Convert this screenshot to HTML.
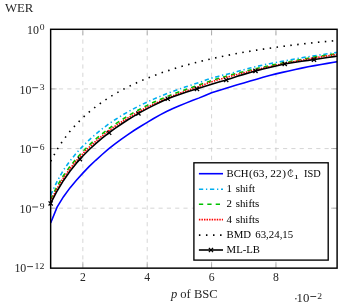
<!DOCTYPE html>
<html><head><meta charset="utf-8"><title>WER plot</title>
<style>html,body{margin:0;padding:0;background:#fff;}body{width:338px;height:305px;overflow:hidden;position:relative;font-family:"Liberation Serif",serif;}</style>
</head><body>
<svg width="338" height="305" viewBox="0 0 338 305" style="position:absolute;left:0;top:0;will-change:transform">
<defs><clipPath id="c"><rect x="50.65" y="29.30" width="286.45" height="238.50"/></clipPath></defs>
<rect x="0" y="0" width="338" height="305" fill="#fff"/>
<line x1="82.84" y1="267.80" x2="82.84" y2="29.30" stroke="#c4c4c4" stroke-width="0.7" stroke-dasharray="4.15 4.15"/>
<line x1="147.21" y1="267.80" x2="147.21" y2="29.30" stroke="#c4c4c4" stroke-width="0.7" stroke-dasharray="4.15 4.15"/>
<line x1="211.58" y1="267.80" x2="211.58" y2="29.30" stroke="#c4c4c4" stroke-width="0.7" stroke-dasharray="4.15 4.15"/>
<line x1="275.95" y1="267.80" x2="275.95" y2="29.30" stroke="#c4c4c4" stroke-width="0.7" stroke-dasharray="4.15 4.15"/>
<line x1="50.65" y1="88.92" x2="337.10" y2="88.92" stroke="#c4c4c4" stroke-width="0.7" stroke-dasharray="4.15 4.15"/>
<line x1="50.65" y1="148.55" x2="337.10" y2="148.55" stroke="#c4c4c4" stroke-width="0.7" stroke-dasharray="4.15 4.15"/>
<line x1="50.65" y1="208.18" x2="337.10" y2="208.18" stroke="#c4c4c4" stroke-width="0.7" stroke-dasharray="4.15 4.15"/>
<line x1="82.84" y1="267.80" x2="82.84" y2="261.80" stroke="#7f7f7f" stroke-width="0.5"/>
<line x1="82.84" y1="29.30" x2="82.84" y2="35.30" stroke="#7f7f7f" stroke-width="0.5"/>
<line x1="147.21" y1="267.80" x2="147.21" y2="261.80" stroke="#7f7f7f" stroke-width="0.5"/>
<line x1="147.21" y1="29.30" x2="147.21" y2="35.30" stroke="#7f7f7f" stroke-width="0.5"/>
<line x1="211.58" y1="267.80" x2="211.58" y2="261.80" stroke="#7f7f7f" stroke-width="0.5"/>
<line x1="211.58" y1="29.30" x2="211.58" y2="35.30" stroke="#7f7f7f" stroke-width="0.5"/>
<line x1="275.95" y1="267.80" x2="275.95" y2="261.80" stroke="#7f7f7f" stroke-width="0.5"/>
<line x1="275.95" y1="29.30" x2="275.95" y2="35.30" stroke="#7f7f7f" stroke-width="0.5"/>
<line x1="50.65" y1="88.92" x2="56.65" y2="88.92" stroke="#7f7f7f" stroke-width="0.5"/>
<line x1="337.10" y1="88.92" x2="331.10" y2="88.92" stroke="#7f7f7f" stroke-width="0.5"/>
<line x1="50.65" y1="148.55" x2="56.65" y2="148.55" stroke="#7f7f7f" stroke-width="0.5"/>
<line x1="337.10" y1="148.55" x2="331.10" y2="148.55" stroke="#7f7f7f" stroke-width="0.5"/>
<line x1="50.65" y1="208.18" x2="56.65" y2="208.18" stroke="#7f7f7f" stroke-width="0.5"/>
<line x1="337.10" y1="208.18" x2="331.10" y2="208.18" stroke="#7f7f7f" stroke-width="0.5"/>
<g clip-path="url(#c)" fill="none" stroke-width="1.60">
<path d="M50.65,222.92 L57.09,207.13 L63.52,196.70 L69.96,187.88 L76.40,180.34 L82.84,173.14 L89.27,166.44 L95.71,160.29 L102.15,154.49 L108.58,148.99 L115.02,143.84 L121.46,139.06 L127.89,134.55 L134.33,130.28 L140.77,126.24 L147.21,122.41 L153.64,118.54 L160.08,114.85 L166.52,111.54 L172.95,108.60 L179.39,105.79 L185.83,103.12 L192.27,100.57 L198.70,98.13 L205.14,95.44 L211.58,92.84 L218.01,90.70 L224.45,88.66 L230.89,86.69 L237.33,84.81 L243.76,83.00 L250.20,81.05 L256.64,79.17 L263.07,77.35 L269.51,75.60 L275.95,73.90 L282.38,72.38 L288.82,70.92 L295.26,69.51 L301.70,68.15 L308.13,66.84 L314.57,65.65 L321.01,64.50 L327.44,63.40 L333.88,62.33 L340.32,61.24" stroke="#0000ff"/>
<path d="M50.65,195.09 L57.09,181.35 L63.52,169.91 L69.96,160.96 L76.40,153.11 L82.84,146.13 L89.27,139.85 L95.71,134.14 L102.15,128.91 L108.58,124.10 L115.02,119.70 L121.46,115.67 L127.89,111.91 L134.33,108.40 L140.77,105.12 L147.21,102.03 L153.64,99.12 L160.08,96.38 L166.52,93.79 L172.95,91.34 L179.39,89.01 L185.83,86.81 L192.27,84.71 L198.70,82.72 L205.14,80.37 L211.58,78.11 L218.01,76.40 L224.45,74.78 L230.89,73.23 L237.33,71.56 L243.76,69.78 L250.20,68.05 L256.64,66.39 L263.07,65.02 L269.51,63.69 L275.95,62.42 L282.38,61.20 L288.82,60.03 L295.26,58.90 L301.70,57.81 L308.13,56.76 L314.57,55.75 L321.01,54.78 L327.44,53.82 L333.88,52.89 L340.32,51.99" stroke="#00aeef" stroke-dasharray="4.3 2.75 1.3 2.7"/>
<path d="M50.65,199.16 L57.09,186.24 L63.52,175.52 L69.96,166.47 L76.40,158.51 L82.84,151.40 L89.27,144.98 L95.71,139.14 L102.15,133.77 L108.58,128.83 L115.02,124.24 L121.46,119.96 L127.89,115.96 L134.33,112.21 L140.77,108.68 L147.21,105.36 L153.64,102.33 L160.08,99.48 L166.52,96.77 L172.95,94.21 L179.39,91.78 L185.83,89.46 L192.27,87.26 L198.70,85.16 L205.14,82.79 L211.58,80.51 L218.01,78.58 L224.45,76.73 L230.89,74.96 L237.33,73.27 L243.76,71.64 L250.20,70.05 L256.64,68.53 L263.07,67.06 L269.51,65.65 L275.95,64.29 L282.38,62.99 L288.82,61.73 L295.26,60.52 L301.70,59.35 L308.13,58.22 L314.57,57.14 L321.01,56.09 L327.44,55.08 L333.88,54.11 L340.32,53.17" stroke="#00c000" stroke-dasharray="4.3 4.1"/>
<path d="M50.65,201.20 L57.09,188.42 L63.52,177.76 L69.96,168.71 L76.40,160.73 L82.84,153.60 L89.27,147.16 L95.71,141.28 L102.15,135.89 L108.58,130.90 L115.02,126.28 L121.46,121.96 L127.89,117.92 L134.33,114.12 L140.77,110.55 L147.21,107.17 L153.64,104.11 L160.08,101.20 L166.52,98.45 L172.95,95.84 L179.39,93.37 L185.83,91.01 L192.27,88.76 L198.70,86.62 L205.14,84.16 L211.58,81.78 L218.01,79.83 L224.45,77.97 L230.89,76.18 L237.33,74.46 L243.76,72.82 L250.20,71.20 L256.64,69.64 L263.07,68.14 L269.51,66.70 L275.95,65.31 L282.38,63.97 L288.82,62.68 L295.26,61.44 L301.70,60.24 L308.13,59.09 L314.57,57.98 L321.01,56.90 L327.44,55.87 L333.88,54.87 L340.32,53.91" stroke="#ff0000" stroke-dasharray="1.45 1.1"/>
<path d="M50.65,161.26 L57.09,149.52 L63.52,139.72 L69.96,131.35 L76.40,124.06 L82.84,117.63 L89.27,111.90 L95.71,106.74 L102.15,102.06 L108.58,97.79 L115.02,93.88 L121.46,90.27 L127.89,86.93 L134.33,83.83 L140.77,80.95 L147.21,78.26 L153.64,75.73 L160.08,73.37 L166.52,71.15 L172.95,69.06 L179.39,67.09 L185.83,65.23 L192.27,63.47 L198.70,61.80 L205.14,60.23 L211.58,58.73 L218.01,57.31 L224.45,55.97 L230.89,54.69 L237.33,53.47 L243.76,52.31 L250.20,51.21 L256.64,50.16 L263.07,49.16 L269.51,48.20 L275.95,47.29 L282.38,46.43 L288.82,45.60 L295.26,44.81 L301.70,44.06 L308.13,43.34 L314.57,42.65 L321.01,42.00 L327.44,41.37 L333.88,40.77 L340.32,40.21" stroke="#000" stroke-dasharray="1.5 5.44" stroke-width="1.6"/>
<path d="M50.65,203.48 L57.09,190.99 L63.52,180.42 L69.96,171.25 L76.40,163.15 L82.84,155.95 L89.27,149.51 L95.71,143.63 L102.15,138.22 L108.58,133.22 L115.02,128.46 L121.46,123.99 L127.89,119.79 L134.33,115.84 L140.77,112.13 L147.21,108.66 L153.64,105.37 L160.08,102.24 L166.52,99.27 L172.95,96.78 L179.39,94.49 L185.83,92.33 L192.27,90.27 L198.70,88.26 L205.14,86.17 L211.58,84.17 L218.01,82.26 L224.45,80.43 L230.89,78.41 L237.33,76.35 L243.76,74.37 L250.20,72.45 L256.64,70.63 L263.07,69.01 L269.51,67.45 L275.95,65.94 L282.38,64.49 L288.82,63.30 L295.26,62.29 L301.70,61.33 L308.13,60.41 L314.57,59.52 L321.01,58.51 L327.44,57.53 L333.88,56.59 L340.32,55.69" stroke="#000" stroke-linejoin="round"/>
</g>
<g stroke="#000" stroke-width="1.3" fill="none">
<path d="M48.55,201.38 L52.75,205.58 M48.55,205.58 L52.75,201.38"/>
<path d="M77.81,157.00 L82.01,161.20 M77.81,161.20 L82.01,157.00"/>
<path d="M107.07,130.69 L111.27,134.89 M107.07,134.89 L111.27,130.69"/>
<path d="M136.33,111.34 L140.53,115.54 M136.33,115.54 L140.53,111.34"/>
<path d="M165.59,96.64 L169.79,100.84 M165.59,100.84 L169.79,96.64"/>
<path d="M194.85,86.75 L199.05,90.95 M194.85,90.95 L199.05,86.75"/>
<path d="M224.11,77.84 L228.31,82.04 M224.11,82.04 L228.31,77.84"/>
<path d="M253.37,68.83 L257.57,73.03 M253.37,73.03 L257.57,68.83"/>
<path d="M282.63,61.87 L286.83,66.07 M282.63,66.07 L286.83,61.87"/>
<path d="M311.89,57.51 L316.09,61.71 M311.89,61.71 L316.09,57.51"/>
</g>
<rect x="50.65" y="29.30" width="286.45" height="238.85" fill="none" stroke="#000" stroke-width="1.45"/>
<rect x="193.90" y="162.80" width="134.30" height="97.30" fill="#fff" stroke="#000" stroke-width="1.35"/>
<g fill="none" stroke-width="1.60">
<line x1="198.90" y1="173.70" x2="223.00" y2="173.70" stroke="#0000ff"/>
<line x1="198.90" y1="189.30" x2="223.00" y2="189.30" stroke="#00aeef" stroke-dasharray="4.3 2.75 1.3 2.7"/>
<line x1="198.90" y1="204.20" x2="223.00" y2="204.20" stroke="#00c000" stroke-dasharray="4.3 4.1"/>
<line x1="198.90" y1="219.60" x2="223.00" y2="219.60" stroke="#ff0000" stroke-dasharray="1.45 1.1"/>
<line x1="198.90" y1="235.10" x2="223.00" y2="235.10" stroke="#000" stroke-dasharray="1.5 5.55" stroke-width="1.6"/>
<line x1="198.90" y1="250.00" x2="223.00" y2="250.00" stroke="#000"/>
</g>
<path d="M208.85,247.90 L213.05,252.10 M208.85,252.10 L213.05,247.90" stroke="#000" stroke-width="1.3" fill="none"/>
<g style="font-family:'Liberation Serif',serif" fill="#262626">
<text x="4.90" y="12.20" font-size="12.00" text-anchor="start"  textLength="28.40" lengthAdjust="spacingAndGlyphs">WER</text>
<text x="27.10" y="33.90" font-size="11.70" text-anchor="start"  textLength="11.90" lengthAdjust="spacingAndGlyphs">10</text>
<text x="39.70" y="30.40" font-size="8.90" text-anchor="start"  textLength="4.80" lengthAdjust="spacingAndGlyphs">0</text>
<line x1="32.20" y1="87.72" x2="38.10" y2="87.72" stroke="#000" stroke-width="0.75"/>
<text x="19.50" y="93.52" font-size="11.70" text-anchor="start"  textLength="11.90" lengthAdjust="spacingAndGlyphs">10</text>
<text x="39.70" y="90.02" font-size="8.90" text-anchor="start"  textLength="4.80" lengthAdjust="spacingAndGlyphs">3</text>
<line x1="32.20" y1="147.35" x2="38.10" y2="147.35" stroke="#000" stroke-width="0.75"/>
<text x="19.50" y="153.15" font-size="11.70" text-anchor="start"  textLength="11.90" lengthAdjust="spacingAndGlyphs">10</text>
<text x="39.70" y="149.65" font-size="8.90" text-anchor="start"  textLength="4.80" lengthAdjust="spacingAndGlyphs">6</text>
<line x1="32.20" y1="206.97" x2="38.10" y2="206.97" stroke="#000" stroke-width="0.75"/>
<text x="19.50" y="212.78" font-size="11.70" text-anchor="start"  textLength="11.90" lengthAdjust="spacingAndGlyphs">10</text>
<text x="39.70" y="209.28" font-size="8.90" text-anchor="start"  textLength="4.80" lengthAdjust="spacingAndGlyphs">9</text>
<line x1="27.10" y1="266.60" x2="33.00" y2="266.60" stroke="#000" stroke-width="0.75"/>
<text x="14.40" y="272.40" font-size="11.70" text-anchor="start"  textLength="11.90" lengthAdjust="spacingAndGlyphs">10</text>
<text x="34.60" y="268.90" font-size="8.90" text-anchor="start"  textLength="9.90" lengthAdjust="spacingAndGlyphs">12</text>
<text x="82.84" y="281.30" font-size="11.70" text-anchor="middle" >2</text>
<text x="147.21" y="281.30" font-size="11.70" text-anchor="middle" >4</text>
<text x="211.58" y="281.30" font-size="11.70" text-anchor="middle" >6</text>
<text x="275.95" y="281.30" font-size="11.70" text-anchor="middle" >8</text>
<text x="170.90" y="298.00" font-size="11.60" text-anchor="start"  textLength="46.80" lengthAdjust="spacingAndGlyphs"><tspan font-style="italic">p</tspan> of BSC</text>
<circle cx="295.9" cy="298.7" r="0.75"/>
<text x="296.60" y="302.20" font-size="11.70" text-anchor="start"  textLength="12.80" lengthAdjust="spacingAndGlyphs">10</text>
<line x1="310.3" y1="296.5" x2="316.2" y2="296.5" stroke="#000" stroke-width="0.75"/>
<text x="317.20" y="298.80" font-size="8.90" text-anchor="start"  textLength="4.80" lengthAdjust="spacingAndGlyphs">2</text>
</g>
<g style="font-family:'Liberation Serif',serif" fill="#000">
<text x="226.50" y="176.60" font-size="10.90" text-anchor="start"  textLength="22.00" lengthAdjust="spacingAndGlyphs">BCH</text>
<text x="249.00" y="176.60" font-size="11.20" text-anchor="start" >(</text>
<text x="253.10" y="176.60" font-size="11.20" text-anchor="start"  textLength="11.30" lengthAdjust="spacingAndGlyphs">63</text>
<text x="265.10" y="176.60" font-size="11.20" text-anchor="start" >,</text>
<text x="270.30" y="176.60" font-size="11.20" text-anchor="start"  textLength="11.30" lengthAdjust="spacingAndGlyphs">22</text>
<text x="282.30" y="176.60" font-size="11.20" text-anchor="start" >)</text>
<g transform="translate(287.40,169.30) scale(0.95,0.92)" fill="none" stroke="#111" stroke-linecap="round" stroke-linejoin="round">
<path d="M3.3,0.7 C1.6,1.0 0.8,2.6 0.8,4.3 C0.8,6.4 2.0,7.9 3.6,7.9 C4.5,7.9 5.2,7.5 5.7,6.8" stroke-width="1.0"/>
<path d="M2.6,0.9 C3.6,0.3 4.9,0.8 5.5,1.6 C5.6,2.3 5.3,2.9 4.8,3.3" stroke-width="0.6"/>
<path d="M3.5,1.3 L3.5,5.6" stroke-width="0.5"/>
</g>
<text x="293.70" y="178.70" font-size="7.00" text-anchor="start"  textLength="5.20" lengthAdjust="spacingAndGlyphs">1</text>
<text x="304.00" y="176.60" font-size="10.90" text-anchor="start"  textLength="16.70" lengthAdjust="spacingAndGlyphs">ISD</text>
<text x="226.60" y="192.20" font-size="10.90" text-anchor="start" >1</text>
<text x="235.70" y="192.20" font-size="10.90" text-anchor="start" >shift</text>
<text x="226.60" y="207.10" font-size="10.90" text-anchor="start" >2</text>
<text x="235.70" y="207.10" font-size="10.90" text-anchor="start" >shifts</text>
<text x="226.60" y="222.50" font-size="10.90" text-anchor="start" >4</text>
<text x="235.70" y="222.50" font-size="10.90" text-anchor="start" >shifts</text>
<text x="226.60" y="238.00" font-size="10.90" text-anchor="start"  textLength="24.50" lengthAdjust="spacingAndGlyphs">BMD</text>
<text x="255.30" y="238.00" font-size="10.90" text-anchor="start"  textLength="37.90" lengthAdjust="spacingAndGlyphs">63,24,15</text>
<text x="226.60" y="252.90" font-size="10.90" text-anchor="start"  textLength="33.40" lengthAdjust="spacingAndGlyphs">ML-LB</text>
</g>
</svg>
</body></html>
